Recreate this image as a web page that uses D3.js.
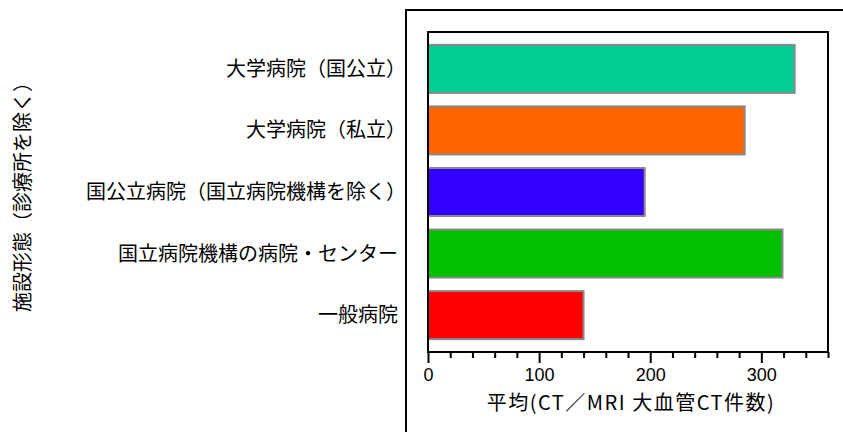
<!DOCTYPE html>
<html><head><meta charset="utf-8">
<script src="https://cdn.jsdelivr.net/npm/d3@7"></script>
<style>body{margin:0;background:#fff}svg{display:block}</style>
</head><body>
<svg id="c" width="843" height="432"></svg>
<script>
const categories = ["大学病院（国公立）","大学病院（私立）","国公立病院（国立病院機構を除く）","国立病院機構の病院・センター","一般病院"];
const values = [330, 285, 195, 319, 140];
const colors = ["#00CC93","#FF6600","#3300FF","#00C000","#FF0000"];
const majorTicks = [0,100,200,300];
const xTitle = "平均(CT／MRI 大血管CT件数)";
const yTitle = "施設形態（診療所を除く）";

const svg = d3.select("#c");
const L=428, R=828, T=32, B=352;
const jp = "'Noto Sans CJK JP', sans-serif";

// outer frame
svg.append("rect").attr("x",406).attr("y",10).attr("width",480).attr("height",480)
  .attr("fill","none").attr("stroke","#000").attr("stroke-width",2);

const x = d3.scaleLinear().domain([0,360]).range([L,R]);
const y = d3.scaleBand().domain(categories).range([T,B]).paddingInner(0.22).paddingOuter(0.21);

svg.append("g").selectAll("rect").data(values).join("rect")
  .attr("x",x(0)).attr("y",(d,i)=>y(categories[i]))
  .attr("width",d=>x(d)-x(0)).attr("height",y.bandwidth())
  .attr("fill",(d,i)=>colors[i]).attr("stroke","#888").attr("stroke-width",2);

// plot box
svg.append("rect").attr("x",L).attr("y",T).attr("width",R-L).attr("height",B-T)
  .attr("fill","none").attr("stroke","#000").attr("stroke-width",2);

// minor ticks
const minorAxis = d3.axisBottom(x).tickValues(d3.range(0,361,20).filter(v=>v%100!==0)).tickSize(6).tickFormat("");
svg.append("g").attr("transform",`translate(0,${B})`).call(minorAxis)
  .call(g=>g.select(".domain").remove())
  .call(g=>g.selectAll("line").attr("stroke","#000").attr("stroke-width",2));
const majorAxis = d3.axisBottom(x).tickValues(majorTicks).tickSize(11).tickPadding(5);
svg.append("g").attr("transform",`translate(0,${B})`).call(majorAxis)
  .call(g=>g.select(".domain").remove())
  .call(g=>g.selectAll("line").attr("stroke","#000").attr("stroke-width",2))
  .call(g=>g.selectAll("text").attr("font-family","'Liberation Sans', Arial, sans-serif").attr("font-size",18).attr("fill","#000"));

// category labels
svg.append("g").selectAll("text").data(categories).join("text")
  .attr("x",d=>d.endsWith("）")?406:398).attr("y",d=>y(d)+y.bandwidth()/2).attr("dy","0.35em")
  .attr("text-anchor","end").attr("font-family",jp).attr("font-size",20).text(d=>d);

svg.append("text").attr("x",631).attr("y",403).attr("dy","0.35em").attr("text-anchor","middle")
  .attr("font-family",jp).attr("font-size",20).attr("letter-spacing",1.5).text(xTitle);

svg.append("text").attr("transform","translate(23,192) rotate(-90)").attr("dy","0.35em")
  .attr("text-anchor","middle").attr("font-family",jp).attr("font-size",20).text(yTitle);
</script>
</body></html>
